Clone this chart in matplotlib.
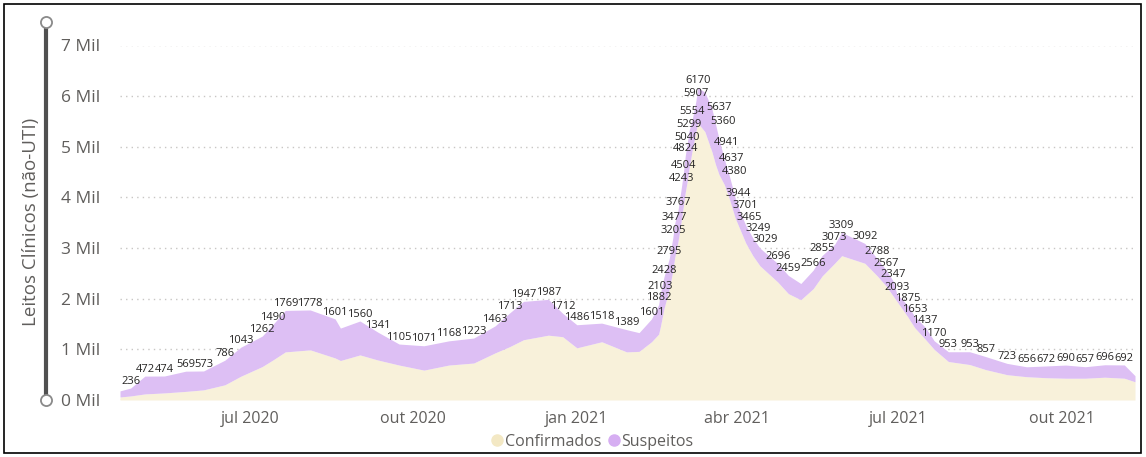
import matplotlib
matplotlib.use("Agg")
import matplotlib.pyplot as plt
from matplotlib.lines import Line2D
from matplotlib.patches import Rectangle
import pandas as pd

plt.rcParams["font.family"] = ["Open Sans", "DejaVu Sans"]

# curva (total = confirmados + suspeitos)
datas = [
    "2020-04-19", "2020-04-25", "2020-05-03", "2020-05-14", "2020-05-26", "2020-06-05",
    "2020-06-17", "2020-06-26", "2020-07-08", "2020-07-14", "2020-07-21", "2020-08-04",
    "2020-08-18", "2020-08-21", "2020-09-01", "2020-09-11", "2020-09-23", "2020-10-07",
    "2020-10-21", "2020-11-04", "2020-11-16", "2020-11-24", "2020-12-02", "2020-12-16",
    "2020-12-24", "2021-01-01", "2021-01-15", "2021-01-29", "2021-02-05", "2021-02-12",
    "2021-02-16", "2021-02-17", "2021-02-19", "2021-02-22", "2021-02-24", "2021-02-25",
    "2021-02-27", "2021-03-01", "2021-03-02", "2021-03-03", "2021-03-04", "2021-03-05",
    "2021-03-07", "2021-03-09", "2021-03-10", "2021-03-14", "2021-03-18", "2021-03-20",
    "2021-03-22", "2021-03-25", "2021-03-28", "2021-03-31", "2021-04-03", "2021-04-06",
    "2021-04-10", "2021-04-14", "2021-04-24", "2021-04-30", "2021-05-07", "2021-05-14",
    "2021-05-19", "2021-05-26", "2021-05-30", "2021-06-12", "2021-06-19", "2021-06-24",
    "2021-06-28", "2021-06-30", "2021-07-06", "2021-07-10", "2021-07-16", "2021-07-21",
    "2021-07-29", "2021-08-10", "2021-08-19", "2021-08-31", "2021-09-11", "2021-09-22",
    "2021-10-03", "2021-10-14", "2021-10-25", "2021-11-05", "2021-11-11",
]
total = [
    180, 236, 472, 474, 569, 573,
    786, 1043, 1262, 1490, 1769, 1778,
    1601, 1420, 1560, 1341, 1105, 1071,
    1168, 1223, 1463, 1713, 1947, 1987,
    1712, 1486, 1518, 1389, 1330, 1601,
    1882, 2103, 2428, 2795, 3205, 3477,
    3767, 4243, 4504, 4824, 5040, 5299,
    5554, 5907, 6170, 6080, 5750, 5450,
    5150, 4750, 4400, 4000, 3700, 3450,
    3200, 3000, 2696, 2459, 2300, 2566,
    2855, 3073, 3309, 3092, 2788, 2567,
    2347, 2093, 1875, 1653, 1437, 1170,
    953, 953, 857, 723, 656, 672,
    690, 657, 696, 692, 480,
]
confirmados = [
    60, 80, 120, 140, 170, 200,
    300, 470, 660, 790, 950, 990,
    830, 780, 890, 790, 690, 590,
    690, 730, 930, 1050, 1190, 1280,
    1250, 1030, 1150, 950, 960, 1150,
    1300, 1450, 1800, 2200, 2550, 2800,
    3150, 3600, 3850, 4100, 4300, 4550,
    4950, 5300, 5470, 5300, 4900, 4650,
    4450, 4250, 3950, 3600, 3350, 3100,
    2850, 2650, 2330, 2100, 1980, 2200,
    2450, 2700, 2850, 2700, 2450, 2250,
    2050, 1950, 1650, 1430, 1200, 1000,
    760, 700, 600, 500, 460, 440,
    430, 430, 450, 430, 360,
]

# rótulos de dados visíveis (posição e valor)
rotulo_datas = [
    "2020-04-25", "2020-05-03", "2020-05-14", "2020-05-26", "2020-06-05", "2020-06-17",
    "2020-06-26", "2020-07-08", "2020-07-14", "2020-07-21", "2020-08-04", "2020-08-18",
    "2020-09-01", "2020-09-11", "2020-09-23", "2020-10-07", "2020-10-21", "2020-11-04",
    "2020-11-16", "2020-11-24", "2020-12-02", "2020-12-16", "2020-12-24", "2021-01-01",
    "2021-01-15", "2021-01-29", "2021-02-12", "2021-02-16", "2021-02-17", "2021-02-19",
    "2021-02-22", "2021-02-24", "2021-02-25", "2021-02-27", "2021-03-01", "2021-03-02",
    "2021-03-03", "2021-03-04", "2021-03-05", "2021-03-07", "2021-03-09", "2021-03-10",
    "2021-03-22", "2021-03-24", "2021-03-26", "2021-03-29", "2021-03-31", "2021-04-02",
    "2021-04-06", "2021-04-08", "2021-04-13", "2021-04-17", "2021-04-24", "2021-04-30",
    "2021-05-14", "2021-05-19", "2021-05-26", "2021-05-30", "2021-06-12", "2021-06-19",
    "2021-06-24", "2021-06-28", "2021-06-30", "2021-07-06", "2021-07-10", "2021-07-16",
    "2021-07-21", "2021-07-29", "2021-08-10", "2021-08-19", "2021-08-31", "2021-09-11",
    "2021-09-22", "2021-10-03", "2021-10-14", "2021-10-25", "2021-11-05",
]
rotulo_valores = [
    236, 472, 474, 569, 573, 786,
    1043, 1262, 1490, 1769, 1778, 1601,
    1560, 1341, 1105, 1071, 1168, 1223,
    1463, 1713, 1947, 1987, 1712, 1486,
    1518, 1389, 1601, 1882, 2103, 2428,
    2795, 3205, 3477, 3767, 4243, 4504,
    4824, 5040, 5299, 5554, 5907, 6170,
    5637, 5360, 4941, 4637, 4380, 3944,
    3701, 3465, 3249, 3029, 2696, 2459,
    2566, 2855, 3073, 3309, 3092, 2788,
    2567, 2347, 2093, 1875, 1653, 1437,
    1170, 953, 953, 857, 723, 656,
    672, 690, 657, 696, 692,
]

ticks_datas = ["2020-07-01", "2020-10-01", "2021-01-01", "2021-04-01", "2021-07-01", "2021-10-01"]
ticks_rotulos = ["jul 2020", "out 2020", "jan 2021", "abr 2021", "jul 2021", "out 2021"]
y_ticks = [0, 1000, 2000, 3000, 4000, 5000, 6000, 7000]
y_rotulos = ["0 Mil", "1 Mil", "2 Mil", "3 Mil", "4 Mil", "5 Mil", "6 Mil", "7 Mil"]

COR_CONF = "#F8F1DA"
COR_SUSP = "#DDBFF4"
CINZA = "#605E5C"

W, H = 1146, 457
fig = plt.figure(figsize=(W / 100, H / 100), dpi=100)
ax = fig.add_axes([120 / W, 1 - 400 / H, (1135 - 120) / W, 354.5 / H])

x = pd.to_datetime(datas)
ax.fill_between(x, 0, confirmados, color=COR_CONF, lw=0, zorder=2)
ax.fill_between(x, confirmados, total, color=COR_SUSP, lw=0, zorder=2)

for d, v in zip(pd.to_datetime(rotulo_datas), rotulo_valores):
    ax.annotate(str(v), (d, v), xytext=(0, 1), textcoords="offset points",
                ha="center", va="bottom", fontsize=8, color="#252423", zorder=4)

ax.set_xlim(pd.Timestamp("2020-04-19"), pd.Timestamp("2021-11-11"))
ax.set_ylim(0, 7000)
ax.set_yticks(y_ticks, y_rotulos)
ax.set_xticks(pd.to_datetime(ticks_datas), ticks_rotulos)
ax.grid(axis="y", linestyle=(0, (1, 3)), color="#C8C6C4", lw=1, zorder=0)
ax.grid(axis="x", visible=False)
ax.set_axisbelow(True)
for s in ax.spines.values():
    s.set_visible(False)
ax.tick_params(axis="y", length=0, pad=14, labelsize=12.5, colors=CINZA)
ax.tick_params(axis="x", length=0, pad=8, labelsize=11.5, colors=CINZA)

# título do eixo e o "controle deslizante" à esquerda
fig.text(31 / W, 1 - 222 / H, "Leitos Clínicos (não-UTI)", rotation=90,
         ha="center", va="center", fontsize=13.5, color=CINZA)
fig.add_artist(Line2D([46 / W, 46 / W], [1 - 22 / H, 1 - 400 / H], transform=fig.transFigure,
                      color="#505050", lw=3, solid_capstyle="butt"))
for yy in (22, 400):
    fig.add_artist(Line2D([46 / W], [1 - yy / H], transform=fig.transFigure, marker="o",
                          markersize=8, mfc="white", mec="#8A8A8A", mew=1.3, ls="none"))

# moldura
fig.add_artist(Rectangle((4 / W, 4 / H), 1 - 9 / W, 1 - 8 / H, transform=fig.transFigure,
                         fill=False, ec="black", lw=1.2))

handles = [
    Line2D([], [], marker="o", ls="none", markersize=8, mfc="#F3E8C4", mec="#F3E8C4"),
    Line2D([], [], marker="o", ls="none", markersize=8, mfc="#D6AEF2", mec="#D6AEF2"),
]
fig.legend(handles, ["Confirmados", "Suspeitos"], loc="center",
           bbox_to_anchor=(592 / W, 1 - 442 / H), ncol=2, frameon=False,
           handletextpad=0.05, columnspacing=0.4, handlelength=0.8,
           fontsize=11.5, labelcolor=CINZA)

fig.savefig("out.png", dpi=100)
